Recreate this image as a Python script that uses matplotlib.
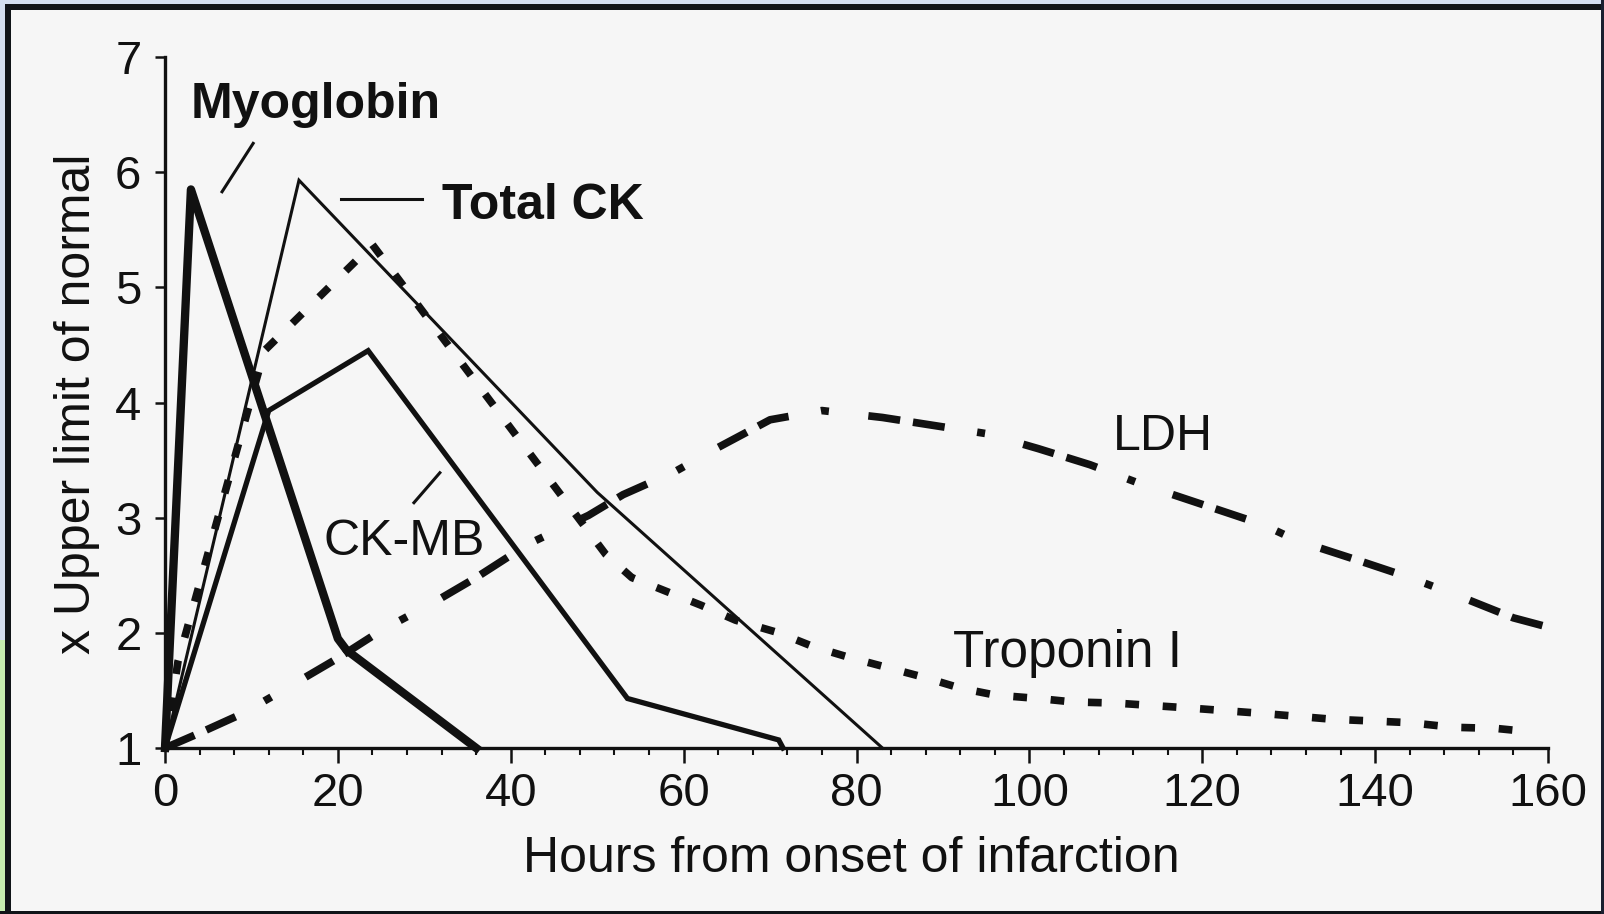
import matplotlib
matplotlib.use("Agg")
import matplotlib.pyplot as plt
from matplotlib.patches import Rectangle
from matplotlib.ticker import MultipleLocator

# ---------------- data (hours, x upper limit of normal) ----------------
myo_h = [0, 3, 20, 21, 36]
myo_v = [1.0, 5.85, 1.95, 1.85, 1.0]

ck_h = [0, 15.5, 50, 83]
ck_v = [1.0, 5.93, 3.22, 1.0]

ckmb_h = [0, 12, 23.5, 53.5, 71, 71.5]
ckmb_v = [1.0, 3.93, 4.45, 1.43, 1.07, 1.0]

tni_h = [0, 1.5, 11.5, 24, 51, 54, 58, 62, 66, 71, 75, 79, 84, 88, 92, 96,
         101, 105, 110, 118, 127, 135, 144, 149, 154, 158]
tni_v = [1.0, 1.75, 4.45, 5.37, 2.68, 2.48, 2.36, 2.24, 2.11, 2.0, 1.88, 1.79,
         1.69, 1.61, 1.52, 1.46, 1.43, 1.40, 1.39, 1.35, 1.30, 1.25, 1.22,
         1.18, 1.17, 1.14]

ldh_h = [0, 4, 9, 15, 20, 25, 31, 36, 42, 49, 53, 59, 64, 70, 76, 83, 89, 95,
         101, 107, 113, 121, 127, 131, 138, 144, 150, 156, 160]
ldh_v = [1.0, 1.13, 1.3, 1.56, 1.78, 2.02, 2.26, 2.48, 2.77, 3.02, 3.2, 3.4,
         3.61, 3.85, 3.93, 3.87, 3.8, 3.73, 3.6, 3.46, 3.29, 3.09, 2.94, 2.8,
         2.63, 2.48, 2.31, 2.13, 2.05]

x_ticks = [0, 20, 40, 60, 80, 100, 120, 140, 160]
y_ticks = [1, 2, 3, 4, 5, 6, 7]

xlabel = "Hours from onset of infarction"
ylabel = "x Upper limit of normal"

# ---------------- figure ----------------
W, H = 1604, 914
plt.rcParams['font.family'] = ['Liberation Sans', 'DejaVu Sans']
fig = plt.figure(figsize=(W / 100, H / 100), dpi=100)
fig.patch.set_facecolor('#f6f6f6')


def frect(x, y, w, h, color):
    """rectangle in pixel coords (from top-left)"""
    fig.add_artist(Rectangle((x / W, 1 - (y + h) / H), w / W, h / H,
                             transform=fig.transFigure, facecolor=color,
                             edgecolor='none', zorder=0))

# scanned-image border
frect(0, 0, W, 4, '#d3def0')
frect(0, 0, 5, H, '#d3def0')
frect(0, 640, 5, H - 640, '#c6eeb0')
frect(5, 4, W - 5, 6, '#101418')
frect(5, 4, 6, H - 4, '#101418')
frect(0, H - 3, W, 3, '#101418')
frect(W - 3, 0, 3, H, '#1a2030')

ax_l, ax_r, ax_b, ax_t = 165, 1548, 748, 57
ax = fig.add_axes([ax_l / W, 1 - ax_b / H, (ax_r - ax_l) / W, (ax_b - ax_t) / H])
ax.set_facecolor('none')
ax.set_xlim(0, 160)
ax.set_ylim(1, 7)

ink = '#111111'

ax.plot(ck_h, ck_v, color=ink, lw=2.2, solid_joinstyle='miter', clip_on=False, zorder=3)
ax.plot(ckmb_h, ckmb_v, color=ink, lw=3.8, solid_joinstyle='miter', clip_on=False, zorder=3)
ax.plot(myo_h, myo_v, color=ink, lw=6.0, solid_joinstyle='round', clip_on=False, zorder=4)
ax.plot(tni_h, tni_v, color=ink, lw=5.5, dashes=(1.8, 3.1), dash_capstyle='butt',
        clip_on=False, zorder=3)
ax.plot(ldh_h, ldh_v, color=ink, lw=5.5, dashes=(4.2, 1.7, 4.2, 4.3, 1.05, 5.2),
        dash_capstyle='butt', clip_on=False, zorder=3)

# labels and leader lines
fs = 36
ax.text(3.0, 6.47, "Myoglobin", fontsize=fs, fontweight='bold', color=ink,
        ha='left', va='baseline')
ax.plot([6.6, 10.2], [5.83, 6.25], color=ink, lw=2.2, clip_on=False)
ax.text(32.0, 5.59, "Total CK", fontsize=fs, fontweight='bold', color=ink,
        ha='left', va='baseline')
ax.plot([20.4, 29.7], [5.77, 5.77], color=ink, lw=2.2, clip_on=False)
ax.text(18.3, 2.68, "CK-MB", fontsize=fs, color=ink, ha='left', va='baseline')
ax.plot([28.8, 31.8], [3.13, 3.39], color=ink, lw=2.2, clip_on=False)
ax.text(109.7, 3.59, "LDH", fontsize=fs, color=ink, ha='left', va='baseline')
ax.text(91.2, 1.70, "Troponin I", fontsize=fs + 1, color=ink, ha='left', va='baseline')

# axes styling
for s in ['top', 'right']:
    ax.spines[s].set_visible(False)
for s in ['left', 'bottom']:
    ax.spines[s].set_linewidth(2.4)
    ax.spines[s].set_color(ink)

ax.set_xticks(x_ticks)
ax.set_yticks(y_ticks)
ax.xaxis.set_minor_locator(MultipleLocator(4))
ax.tick_params(axis='x', which='major', direction='out', length=11, width=1.8,
               labelsize=34, pad=6, colors=ink)
ax.tick_params(axis='x', which='minor', direction='out', length=5, width=1.5, colors=ink)
ax.tick_params(axis='y', which='major', direction='out', length=7, width=1.8,
               labelsize=34, pad=10, colors=ink)

ax.set_xlabel(xlabel, fontsize=36, color=ink)
ax.xaxis.set_label_coords(0.496, -0.1606)
ax.xaxis.label.set_va('center')
ax.set_ylabel(ylabel, fontsize=36, color=ink)
ax.yaxis.set_label_coords(-0.0636, 0.498)
ax.yaxis.label.set_va('center')

fig.savefig("out.png", dpi=100, facecolor=fig.get_facecolor())
